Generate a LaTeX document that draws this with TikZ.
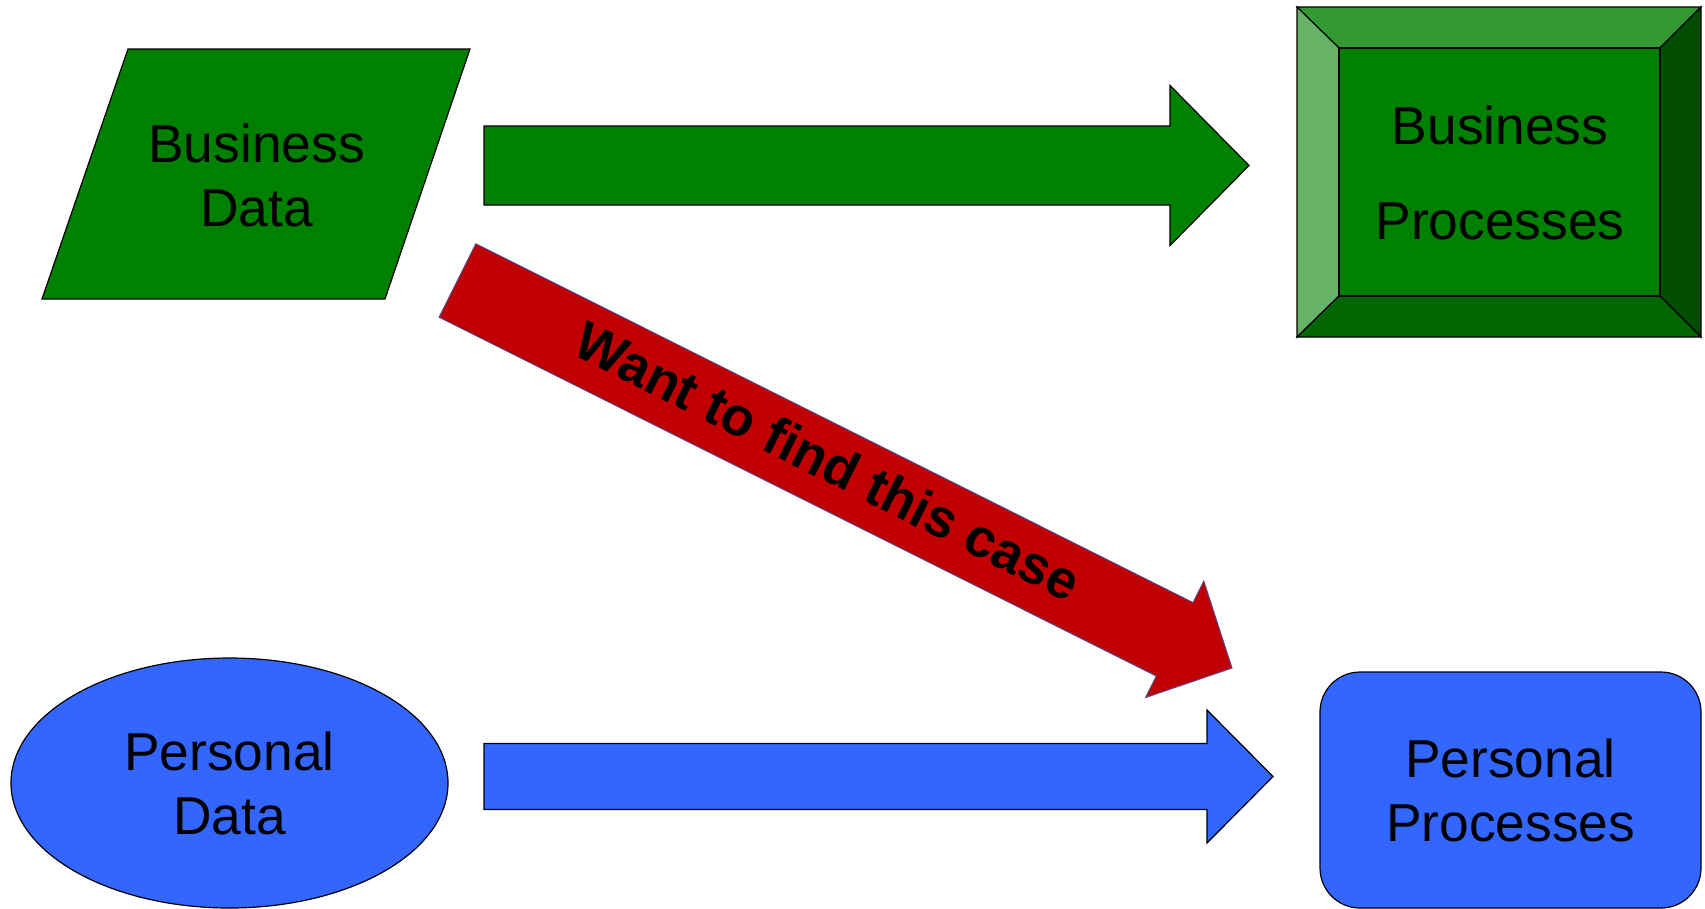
\documentclass[tikz,border=0pt]{standalone}
\usepackage{fontspec}
\setmainfont{Liberation Sans}
\usetikzlibrary{shapes.geometric}
\definecolor{gfill}{RGB}{0,128,0}
\definecolor{gtop}{RGB}{51,153,51}
\definecolor{gleft}{RGB}{102,178,102}
\definecolor{gright}{RGB}{0,76,0}
\definecolor{gbottom}{RGB}{0,102,0}
\definecolor{bfill}{RGB}{51,102,255}
\definecolor{rfill}{RGB}{192,0,0}
\definecolor{redge}{RGB}{96,64,128}
\tikzset{
  outl/.style={draw=black, line width=0.9pt, line join=miter},
  lbl/.style={align=center, inner sep=0pt, text=black, font=\fontsize{40pt}{48pt}\selectfont},
  boldlbl/.style={inner sep=0pt, text=black, font=\fontsize{40.5pt}{48pt}\selectfont\bfseries},
}
\begin{document}
\begin{tikzpicture}[x=0.75pt, y=-0.75pt]
\useasboundingbox (0,0) rectangle (1705,908);
\fill[white] (0,0) rectangle (1705,908);

% Business Data (parallelogram)
\filldraw[fill=gfill, outl] (128,49) -- (470,49) -- (385,299) -- (42,299) -- cycle;
\node[lbl] (bd) at (256.5,175.5) {Business\\Data};

% Business Processes (bevel)
\filldraw[fill=gtop, outl] (1297,7) -- (1701,7) -- (1660,48) -- (1339,48) -- cycle;
\filldraw[fill=gleft, outl] (1297,7) -- (1339,48) -- (1339,296) -- (1297,337) -- cycle;
\filldraw[fill=gright, outl] (1701,7) -- (1701,337) -- (1660,296) -- (1660,48) -- cycle;
\filldraw[fill=gbottom, outl] (1297,337) -- (1339,296) -- (1660,296) -- (1701,337) -- cycle;
\filldraw[fill=gfill, outl] (1339,48) rectangle (1660,296);
\node[lbl, font=\fontsize{40pt}{71.25pt}\selectfont] (bp) at (1500,172.5) {Business\\Processes};

% Personal Data (ellipse)
\node[ellipse, outl, fill=bfill, minimum width=327.75pt, minimum height=187.5pt, lbl] (pd) at (229.5,783) {Personal\\Data};

% Personal Processes (rounded rectangle)
\node[rectangle, rounded corners=30pt, outl, fill=bfill, minimum width=285.75pt, minimum height=177pt, lbl] (pp) at (1510.5,790) {Personal\\Processes};

% green block arrow
\coordinate (gs) at (484,165.5);
\begin{scope}[shift={(gs)}]
\filldraw[fill=gfill, outl] (0,-39.5) -- (686,-39.5) -- (686,-80) -- (765,0) -- (686,80) -- (686,39.5) -- (0,39.5) -- cycle;
\end{scope}

% blue block arrow
\coordinate (bs) at (484,776.5);
\begin{scope}[shift={(bs)}]
\filldraw[fill=bfill, outl] (0,-33) -- (723,-33) -- (723,-66.5) -- (789,0) -- (723,66.5) -- (723,33) -- (0,33) -- cycle;
\end{scope}

% red block arrow
\coordinate (rs) at (457.5,280.5);
\begin{scope}[shift={(rs)}, rotate=-26.58]
\filldraw[fill=rfill, draw=redge, line width=0.8pt, line join=miter] (0,-41) -- (802,-41) -- (802,-65) -- (866,0) -- (802,65) -- (802,41) -- (0,41) -- cycle;
\end{scope}
\node[boldlbl, rotate=-26.58] (rt) at (828,461) {Want to find this case};
\end{tikzpicture}
\end{document}
